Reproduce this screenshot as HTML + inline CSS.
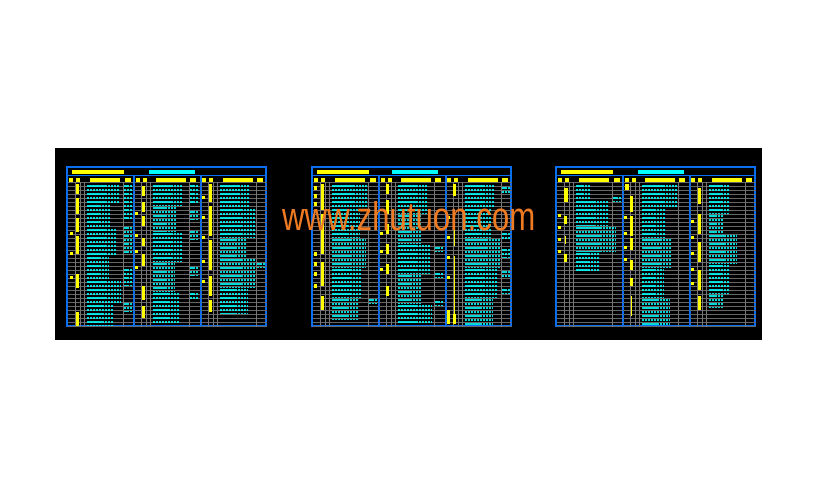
<!DOCTYPE html>
<html><head><meta charset="utf-8"><style>
*{margin:0;padding:0;box-sizing:border-box}
body{width:818px;height:488px;background:#fff;position:relative;overflow:hidden;font-family:"Liberation Sans",sans-serif}
#bk{position:absolute;left:55px;top:148px;width:707px;height:192px;background:#000}
.t{position:absolute;top:166px;width:201px;height:161px;border:2px solid #0a6ef0;background:#000}
.ty{position:absolute;left:4px;top:2px;width:52px;height:4px;background:#ff0}
.tc{position:absolute;left:81px;top:2px;width:46px;height:4px;background:#0ff}
.hl{position:absolute;left:0;right:0;top:7px;height:1px;background:#0a6ef0}
.g{position:absolute;top:8px;width:66px;height:151px}
.g1{left:0}.g2{left:66px}.g3{left:133px}
.dv{position:absolute;top:8px;width:2px;height:151px;background:#0a6ef0}
.h{position:absolute;top:2px;height:4px;background:#ff0}
.rows{position:absolute;left:0;right:0;top:6px;bottom:0;background:repeating-linear-gradient(to bottom,#666 0 1px,transparent 1px 4px)}
.v{position:absolute;top:6px;bottom:0;width:1px;background:#777}
.c{position:absolute;left:19px;background:repeating-linear-gradient(to bottom,transparent 0 1px,#0ff 1px 3px,transparent 3px 4px);-webkit-mask:repeating-linear-gradient(90deg,#000 0 2px,transparent 2px 3px),repeating-linear-gradient(to bottom,#000 0 4px,transparent 4px 8px);-webkit-mask-size:100% 100%,60% 100%;-webkit-mask-repeat:no-repeat;opacity:.85}
.y{position:absolute;background:#ff0;width:3px}
.wm{position:absolute;left:282px;top:197px;font-size:40px;color:#ee7a22;white-space:nowrap;transform:scaleX(0.78);transform-origin:0 0;line-height:40px}
</style></head><body>
<div id="bk"></div>

<!-- TABLE 1 -->
<div class="t" style="left:66px">
<div class="ty"></div><div class="tc"></div><div class="hl"></div>
<div class="g g1">
<div class="h" style="left:1px;width:4px"></div><div class="h" style="left:8px;width:4px"></div><div class="h" style="left:22px;width:30px"></div><div class="h" style="left:57px;width:6px"></div>
<div class="rows"></div><div class="v" style="left:7px"></div><div class="v" style="left:12px"></div><div class="v" style="left:16px"></div><div class="v" style="left:55px"></div>
<div class="c" style="top:8px;width:32px;height:20px"></div><div class="c" style="top:28px;width:24px;height:24px"></div><div class="c" style="top:52px;width:30px;height:28px"></div><div class="c" style="top:80px;width:22px;height:24px"></div><div class="c" style="top:104px;width:34px;height:24px"></div><div class="c" style="top:128px;width:26px;height:22px"></div>
<div class="c" style="left:56px;top:8px;width:9px;height:36px"></div><div class="c" style="left:56px;top:50px;width:9px;height:28px"></div><div class="c" style="left:56px;top:92px;width:9px;height:18px"></div><div class="c" style="left:56px;top:126px;width:9px;height:10px"></div>
<div class="y" style="left:8px;top:8px;height:10px"></div><div class="y" style="left:8px;top:22px;height:16px"></div><div class="y" style="left:8px;top:42px;height:14px"></div><div class="y" style="left:8px;top:60px;height:18px"></div><div class="y" style="left:8px;top:98px;height:14px"></div><div class="y" style="left:8px;top:136px;height:14px"></div><div class="y" style="left:2px;top:56px;height:3px"></div><div class="y" style="left:2px;top:76px;height:3px"></div><div class="y" style="left:2px;top:100px;height:3px"></div>
</div>
<div class="dv" style="left:65px"></div>
<div class="g g2">
<div class="h" style="left:2px;width:4px"></div><div class="h" style="left:9px;width:4px"></div><div class="h" style="left:22px;width:30px"></div><div class="h" style="left:56px;width:6px"></div>
<div class="rows"></div><div class="v" style="left:7px"></div><div class="v" style="left:12px"></div><div class="v" style="left:16px"></div><div class="v" style="left:55px"></div>
<div class="c" style="top:8px;width:30px;height:22px"></div><div class="c" style="top:30px;width:24px;height:26px"></div><div class="c" style="top:56px;width:30px;height:30px"></div><div class="c" style="top:86px;width:22px;height:30px"></div><div class="c" style="top:116px;width:26px;height:32px"></div>
<div class="c" style="left:56px;top:8px;width:9px;height:20px"></div><div class="c" style="left:56px;top:34px;width:9px;height:10px"></div><div class="c" style="left:56px;top:54px;width:9px;height:10px"></div><div class="c" style="left:56px;top:90px;width:9px;height:10px"></div><div class="c" style="left:56px;top:116px;width:9px;height:8px"></div>
<div class="y" style="left:8px;top:10px;height:10px"></div><div class="y" style="left:8px;top:26px;height:10px"></div><div class="y" style="left:8px;top:40px;height:10px"></div><div class="y" style="left:8px;top:62px;height:8px"></div><div class="y" style="left:8px;top:78px;height:12px"></div><div class="y" style="left:8px;top:110px;height:14px"></div><div class="y" style="left:8px;top:130px;height:12px"></div><div class="y" style="left:1px;top:36px;height:3px"></div><div class="y" style="left:1px;top:58px;height:3px"></div><div class="y" style="left:1px;top:74px;height:3px"></div><div class="y" style="left:1px;top:90px;height:3px"></div>
</div>
<div class="dv" style="left:132px"></div>
<div class="g g3">
<div class="h" style="left:1px;width:4px"></div><div class="h" style="left:8px;width:4px"></div><div class="h" style="left:22px;width:30px"></div><div class="h" style="left:56px;width:6px"></div>
<div class="rows"></div><div class="v" style="left:7px"></div><div class="v" style="left:12px"></div><div class="v" style="left:16px"></div><div class="v" style="left:55px"></div>
<div class="c" style="top:8px;width:30px;height:24px"></div><div class="c" style="top:32px;width:36px;height:30px"></div><div class="c" style="top:62px;width:26px;height:20px"></div><div class="c" style="top:82px;width:36px;height:30px"></div><div class="c" style="top:112px;width:28px;height:26px"></div>
<div class="c" style="left:56px;top:86px;width:9px;height:6px"></div>
<div class="y" style="left:8px;top:8px;height:18px"></div><div class="y" style="left:8px;top:30px;height:30px"></div><div class="y" style="left:8px;top:64px;height:30px"></div><div class="y" style="left:8px;top:100px;height:20px"></div><div class="y" style="left:8px;top:124px;height:12px"></div><div class="y" style="left:1px;top:20px;height:3px"></div><div class="y" style="left:1px;top:40px;height:3px"></div><div class="y" style="left:1px;top:60px;height:3px"></div><div class="y" style="left:1px;top:84px;height:3px"></div><div class="y" style="left:1px;top:104px;height:3px"></div>
</div>
</div>

<!-- TABLE 2 -->
<div class="t" style="left:311px">
<div class="ty"></div><div class="tc" style="left:79px"></div><div class="hl"></div>
<div class="g g1">
<div class="h" style="left:1px;width:4px"></div><div class="h" style="left:8px;width:4px"></div><div class="h" style="left:22px;width:30px"></div><div class="h" style="left:57px;width:6px"></div>
<div class="rows"></div><div class="v" style="left:7px"></div><div class="v" style="left:12px"></div><div class="v" style="left:16px"></div><div class="v" style="left:55px"></div>
<div class="c" style="top:8px;width:36px;height:24px"></div><div class="c" style="top:32px;width:28px;height:30px"></div><div class="c" style="top:62px;width:34px;height:30px"></div><div class="c" style="top:92px;width:30px;height:30px"></div><div class="c" style="top:122px;width:26px;height:22px"></div>
<div class="c" style="left:56px;top:122px;width:9px;height:6px"></div>
<div class="y" style="left:1px;top:10px;height:4px"></div><div class="y" style="left:1px;top:18px;height:4px"></div><div class="y" style="left:1px;top:26px;height:4px"></div><div class="y" style="left:1px;top:76px;height:4px"></div><div class="y" style="left:1px;top:86px;height:4px"></div><div class="y" style="left:1px;top:96px;height:4px"></div><div class="y" style="left:1px;top:108px;height:4px"></div><div class="y" style="left:8px;top:8px;height:26px"></div><div class="y" style="left:8px;top:38px;height:40px"></div><div class="y" style="left:8px;top:86px;height:24px"></div><div class="y" style="left:8px;top:120px;height:14px"></div>
</div>
<div class="dv" style="left:65px"></div>
<div class="g g2">
<div class="h" style="left:2px;width:4px"></div><div class="h" style="left:9px;width:4px"></div><div class="h" style="left:22px;width:30px"></div><div class="h" style="left:56px;width:6px"></div>
<div class="rows"></div><div class="v" style="left:7px"></div><div class="v" style="left:12px"></div><div class="v" style="left:16px"></div><div class="v" style="left:55px"></div>
<div class="c" style="top:8px;width:30px;height:30px"></div><div class="c" style="top:38px;width:24px;height:30px"></div><div class="c" style="top:68px;width:32px;height:30px"></div><div class="c" style="top:98px;width:24px;height:30px"></div><div class="c" style="top:128px;width:34px;height:20px"></div>
<div class="c" style="left:56px;top:70px;width:9px;height:6px"></div><div class="c" style="left:56px;top:96px;width:9px;height:6px"></div><div class="c" style="left:56px;top:124px;width:9px;height:6px"></div>
<div class="y" style="left:7px;top:8px;height:10px"></div><div class="y" style="left:7px;top:24px;height:14px"></div><div class="y" style="left:7px;top:48px;height:10px"></div><div class="y" style="left:7px;top:68px;height:10px"></div><div class="y" style="left:7px;top:88px;height:10px"></div><div class="y" style="left:7px;top:110px;height:10px"></div><div class="y" style="left:1px;top:56px;height:3px"></div><div class="y" style="left:1px;top:74px;height:3px"></div><div class="y" style="left:1px;top:92px;height:3px"></div>
</div>
<div class="dv" style="left:132px"></div>
<div class="g g3">
<div class="h" style="left:1px;width:4px"></div><div class="h" style="left:8px;width:4px"></div><div class="h" style="left:22px;width:30px"></div><div class="h" style="left:56px;width:6px"></div>
<div class="rows"></div><div class="v" style="left:7px"></div><div class="v" style="left:12px"></div><div class="v" style="left:16px"></div><div class="v" style="left:55px"></div>
<div class="c" style="top:8px;width:30px;height:24px"></div><div class="c" style="top:32px;width:26px;height:30px"></div><div class="c" style="top:62px;width:36px;height:30px"></div><div class="c" style="top:92px;width:32px;height:30px"></div><div class="c" style="top:122px;width:28px;height:28px"></div>
<div class="c" style="left:56px;top:10px;width:9px;height:8px"></div><div class="c" style="left:56px;top:56px;width:9px;height:8px"></div><div class="c" style="left:56px;top:72px;width:9px;height:10px"></div><div class="c" style="left:56px;top:94px;width:9px;height:8px"></div><div class="c" style="left:56px;top:112px;width:9px;height:6px"></div>
<div class="y" style="left:7px;top:8px;height:12px"></div><div class="y" style="left:8px;top:40px;height:30px;width:1px"></div><div class="y" style="left:8px;top:80px;height:60px;width:1px"></div><div class="y" style="left:1px;top:40px;height:3px"></div><div class="y" style="left:1px;top:60px;height:3px"></div><div class="y" style="left:1px;top:80px;height:3px"></div><div class="y" style="left:1px;top:100px;height:3px"></div><div class="y" style="left:1px;top:134px;height:14px"></div><div class="y" style="left:7px;top:138px;height:10px"></div>
</div>
</div>

<!-- TABLE 3 -->
<div class="t" style="left:555px">
<div class="ty"></div><div class="tc"></div><div class="hl"></div>
<div class="g g1">
<div class="h" style="left:1px;width:4px"></div><div class="h" style="left:8px;width:4px"></div><div class="h" style="left:22px;width:30px"></div><div class="h" style="left:57px;width:6px"></div>
<div class="rows"></div><div class="v" style="left:7px"></div><div class="v" style="left:12px"></div><div class="v" style="left:16px"></div><div class="v" style="left:55px"></div>
<div class="c" style="top:8px;width:14px;height:16px"></div><div class="c" style="top:24px;width:32px;height:26px"></div><div class="c" style="top:50px;width:40px;height:26px"></div><div class="c" style="top:76px;width:24px;height:20px"></div>
<div class="c" style="left:56px;top:20px;width:9px;height:6px"></div>
<div class="y" style="left:7px;top:12px;height:14px;width:4px"></div><div class="y" style="left:7px;top:40px;height:8px"></div><div class="y" style="left:8px;top:60px;height:8px;width:1px"></div><div class="y" style="left:7px;top:78px;height:8px"></div><div class="y" style="left:1px;top:38px;height:3px"></div><div class="y" style="left:1px;top:50px;height:3px"></div><div class="y" style="left:1px;top:62px;height:3px"></div><div class="y" style="left:1px;top:74px;height:3px"></div>
</div>
<div class="dv" style="left:65px"></div>
<div class="g g2">
<div class="h" style="left:2px;width:4px"></div><div class="h" style="left:9px;width:4px"></div><div class="h" style="left:22px;width:30px"></div><div class="h" style="left:56px;width:6px"></div>
<div class="rows"></div><div class="v" style="left:7px"></div><div class="v" style="left:12px"></div><div class="v" style="left:16px"></div><div class="v" style="left:55px"></div>
<div class="c" style="top:8px;width:36px;height:24px"></div><div class="c" style="top:32px;width:24px;height:30px"></div><div class="c" style="top:62px;width:30px;height:30px"></div><div class="c" style="top:92px;width:22px;height:30px"></div><div class="c" style="top:122px;width:28px;height:28px"></div>
<div class="y" style="left:2px;top:8px;height:6px;width:4px"></div><div class="y" style="left:7px;top:20px;height:16px"></div><div class="y" style="left:7px;top:40px;height:20px"></div><div class="y" style="left:7px;top:62px;height:12px"></div><div class="y" style="left:7px;top:84px;height:10px"></div><div class="y" style="left:7px;top:102px;height:8px"></div><div class="y" style="left:8px;top:120px;height:20px;width:1px"></div><div class="y" style="left:1px;top:40px;height:3px"></div><div class="y" style="left:1px;top:56px;height:3px"></div><div class="y" style="left:1px;top:70px;height:3px"></div><div class="y" style="left:1px;top:82px;height:3px"></div>
</div>
<div class="dv" style="left:132px"></div>
<div class="g g3">
<div class="h" style="left:1px;width:4px"></div><div class="h" style="left:8px;width:4px"></div><div class="h" style="left:22px;width:30px"></div><div class="h" style="left:56px;width:6px"></div>
<div class="rows"></div><div class="v" style="left:7px"></div><div class="v" style="left:12px"></div><div class="v" style="left:16px"></div><div class="v" style="left:55px"></div>
<div class="c" style="top:8px;width:20px;height:30px"></div><div class="c" style="top:38px;width:14px;height:20px"></div><div class="c" style="top:58px;width:28px;height:30px"></div><div class="c" style="top:88px;width:20px;height:30px"></div><div class="c" style="top:118px;width:14px;height:14px"></div>
<div class="y" style="left:8px;top:12px;height:16px"></div><div class="y" style="left:8px;top:38px;height:20px"></div><div class="y" style="left:8px;top:66px;height:20px"></div><div class="y" style="left:8px;top:94px;height:20px"></div><div class="y" style="left:8px;top:120px;height:14px"></div><div class="y" style="left:1px;top:44px;height:3px"></div><div class="y" style="left:1px;top:60px;height:3px"></div><div class="y" style="left:1px;top:76px;height:3px"></div><div class="y" style="left:1px;top:92px;height:3px"></div><div class="y" style="left:1px;top:106px;height:3px"></div>
</div>
</div>

<div class="wm">www.zhutuon.com</div>
</body></html>
